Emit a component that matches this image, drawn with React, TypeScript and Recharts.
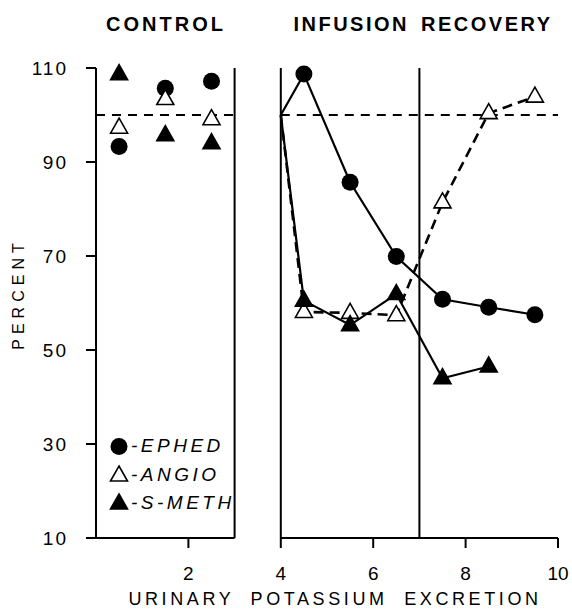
import React from 'react';
import { ComposedChart, Line, XAxis, YAxis, ReferenceLine } from 'recharts';

// control period, scattered points (no connecting lines)
const controlX = [0.5, 1.5, 2.5];
const ephedControl = [93.3, 105.7, 107.2];
const angioControl = [97.3, 103.4, 99.1];
const smethControl = [108.7, 95.7, 94];

// infusion recovery, all start from the 100% baseline at x = 4
const recoveryX = [4, 4.5, 5.5, 6.5, 7.5, 8.5, 9.5];
const ephedRecovery = [100, 108.7, 85.7, 69.9, 60.8, 59.1, 57.5];
const angioRecovery = [100, 58.1, 57.9, 57.4, 81.4, 100.4, 103.9];
const smethRecovery = [100, 60.5, 55.3, 61.9, 44, 46.5];

const xTicks = [2, 4, 6, 8, 10];
const yTicks = [10, 30, 50, 70, 90, 110];

const legendItems = [
  { label: '-EPHED', marker: 'circle' },
  { label: '-ANGIO', marker: 'open' },
  { label: '-S-METH', marker: 'filled' },
];

const FONT = '"Liberation Sans", Arial, sans-serif';
const INK = '#000';

const toPoints = (xs: number[], ys: number[]) => ys.map((y, i) => ({ x: xs[i], y }));

function Marker({ kind, cx, cy }: { kind: string; cx: number; cy: number }) {
  if (kind === 'circle') return <circle cx={cx} cy={cy} r={8.5} fill={INK} />;
  return (
    <path
      d={`M${cx},${cy - 9.5}L${cx + 8.5},${cy + 5.5}L${cx - 8.5},${cy + 5.5}Z`}
      fill={kind === 'filled' ? INK : '#fff'}
      stroke={INK}
      strokeWidth={1.6}
      strokeLinejoin="miter"
    />
  );
}

const dotFor = (kind: string, skipFirst: boolean) => (p: any) => {
  if (skipFirst && p.index === 0) return <g key={`d${p.index}`} />;
  return <Marker key={`d${p.index}`} kind={kind} cx={p.cx} cy={p.cy} />;
};

const overlay = (style: React.CSSProperties): React.CSSProperties => ({
  position: 'absolute',
  whiteSpace: 'nowrap',
  color: INK,
  fontFamily: FONT,
  transform: 'translate(-50%, -50%)',
  lineHeight: 1,
  ...style,
});

export default function App() {
  const axisTick = { fill: INK, fontSize: 19, fontFamily: FONT };
  return (
    <div style={{ position: 'absolute', left: 0, top: 0, width: 572, height: 612, background: '#fff' }}>
      <ComposedChart width={572} height={612} margin={{ top: 68, right: 14, bottom: 44, left: 36 }}>
        <XAxis
          type="number"
          dataKey="x"
          domain={[0, 10]}
          ticks={xTicks}
          interval={0}
          axisLine={false}
          tickLine={{ stroke: INK, strokeWidth: 2 }}
          tickSize={10}
          tickMargin={19}
          height={30}
          tick={axisTick}
        />
        <YAxis
          type="number"
          dataKey="y"
          domain={[10, 110]}
          ticks={yTicks}
          interval={0}
          width={60}
          axisLine={{ stroke: INK, strokeWidth: 2 }}
          tickLine={{ stroke: INK, strokeWidth: 2 }}
          tickSize={10}
          tickMargin={18}
          tick={{ ...axisTick, fontSize: 19, letterSpacing: 2 }}
        />

        {/* panel frames */}
        <ReferenceLine segment={[{ x: 0, y: 10 }, { x: 3, y: 10 }]} stroke={INK} strokeWidth={2} />
        <ReferenceLine segment={[{ x: 4, y: 10 }, { x: 10, y: 10 }]} stroke={INK} strokeWidth={2} />
        <ReferenceLine x={3} stroke={INK} strokeWidth={2} />
        <ReferenceLine x={4} stroke={INK} strokeWidth={2} />
        <ReferenceLine x={7} stroke={INK} strokeWidth={2} />

        {/* 100% baseline */}
        <ReferenceLine segment={[{ x: 0, y: 100 }, { x: 3, y: 100 }]} stroke={INK} strokeWidth={2} strokeDasharray="9 7" />
        <ReferenceLine segment={[{ x: 4, y: 100 }, { x: 10, y: 100 }]} stroke={INK} strokeWidth={2} strokeDasharray="9 7" />

        {/* control points */}
        <Line data={toPoints(controlX, ephedControl)} dataKey="y" stroke="none" dot={dotFor('circle', false)} isAnimationActive={false} />
        <Line data={toPoints(controlX, angioControl)} dataKey="y" stroke="none" dot={dotFor('open', false)} isAnimationActive={false} />
        <Line data={toPoints(controlX, smethControl)} dataKey="y" stroke="none" dot={dotFor('filled', false)} isAnimationActive={false} />

        {/* recovery curves */}
        <Line data={toPoints(recoveryX, ephedRecovery)} dataKey="y" type="linear" stroke={INK} strokeWidth={2.2} dot={dotFor('circle', true)} isAnimationActive={false} />
        <Line data={toPoints(recoveryX, angioRecovery)} dataKey="y" type="linear" stroke={INK} strokeWidth={2.6} strokeDasharray="10 6" dot={dotFor('open', true)} isAnimationActive={false} />
        <Line data={toPoints(recoveryX, smethRecovery)} dataKey="y" type="linear" stroke={INK} strokeWidth={2.2} dot={dotFor('filled', true)} isAnimationActive={false} />
      </ComposedChart>

      <div style={overlay({ left: 166, top: 24, fontSize: 20, fontWeight: 700, letterSpacing: 3 })}>CONTROL</div>
      <div style={overlay({ left: 423, top: 24, fontSize: 20, fontWeight: 700, letterSpacing: 2.5, wordSpacing: 4 })}>
        INFUSION RECOVERY
      </div>
      <div style={overlay({ left: 335, top: 599, fontSize: 18, letterSpacing: 3.6, wordSpacing: 8 })}>
        URINARY POTASSIUM EXCRETION
      </div>
      <div style={overlay({ left: 19, top: 294, fontSize: 16, letterSpacing: 5, transform: 'translate(-50%, -50%) rotate(-90deg)' })}>
        PERCENT
      </div>

      {legendItems.map((item, i) => (
        <div key={item.label} style={{ position: 'absolute', left: 108, top: 446 - 11 + i * 28.5, height: 22, display: 'flex', alignItems: 'center' }}>
          <svg width={22} height={22} style={{ display: 'block' }}>
            <Marker kind={item.marker} cx={11} cy={11.5} />
          </svg>
          <span style={{ fontFamily: FONT, fontStyle: 'italic', fontSize: 19, letterSpacing: 3.5, color: INK, marginLeft: 1 }}>
            {item.label}
          </span>
        </div>
      ))}
    </div>
  );
}
